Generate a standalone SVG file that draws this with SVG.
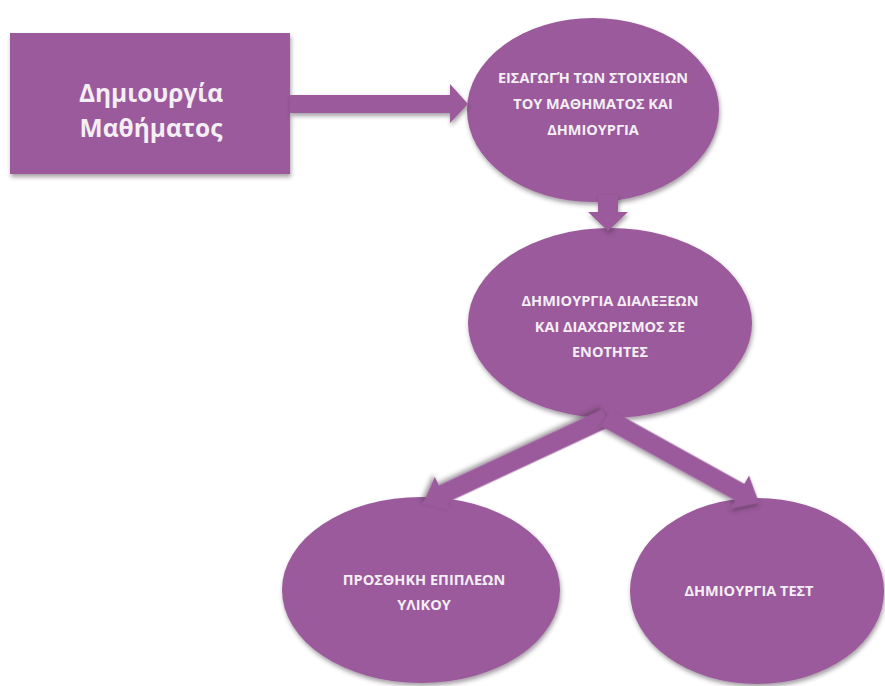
<svg xmlns="http://www.w3.org/2000/svg" width="885" height="686" viewBox="0 0 885 686">
<defs>
<filter id="sh" x="-20%" y="-20%" width="140%" height="150%">
<feDropShadow dx="1" dy="3" stdDeviation="2" flood-color="#3a2a3a" flood-opacity="0.45"/>
</filter>
</defs>
<style>
.shape{fill:#9b5a9b;filter:url(#sh)}
.t{font-family:"Open Sans","Noto Sans","DejaVu Sans",sans-serif;font-weight:bold;fill:#f4eef5;text-anchor:middle}
.big{font-size:24.5px}
.sm{font-size:14.5px}
</style>
<rect width="885" height="686" fill="#ffffff"/>
<g id="n1">
<rect class="shape" x="10" y="33" width="280" height="141"/>
<text class="t big" x="151" y="102">Δημιουργία</text>
<text class="t big" x="151" y="137">Μαθήματος</text>
</g>
<g id="n2">
<ellipse class="shape" cx="593" cy="110" rx="126" ry="92"/>
<text class="t sm" x="593" y="83">ΕΙΣΑΓΩΓΉ ΤΩΝ ΣΤΟΙΧΕΙΩΝ</text>
<text class="t sm" x="593" y="109">ΤΟΥ ΜΑΘΗΜΑΤΟΣ ΚΑΙ</text>
<text class="t sm" x="593" y="135">ΔΗΜΙΟΥΡΓΙΑ</text>
</g>
<g id="n3">
<ellipse class="shape" cx="610" cy="323" rx="142" ry="95"/>
<text class="t sm" x="610" y="306">ΔΗΜΙΟΥΡΓΙΑ ΔΙΑΛΕΞΕΩΝ</text>
<text class="t sm" x="610" y="332">ΚΑΙ ΔΙΑΧΩΡΙΣΜΟΣ ΣΕ</text>
<text class="t sm" x="610" y="357">ΕΝΟΤΗΤΕΣ</text>
</g>
<g id="n4">
<ellipse class="shape" cx="421" cy="590" rx="139" ry="93"/>
<text class="t sm" x="424" y="585">ΠΡΟΣΘΗΚΗ ΕΠΙΠΛΕΩΝ</text>
<text class="t sm" x="424" y="610">ΥΛΙΚΟΥ</text>
</g>
<g id="n5">
<ellipse class="shape" cx="757" cy="591" rx="127" ry="93"/>
<text class="t sm" x="749" y="596">ΔΗΜΙΟΥΡΓΙΑ ΤΕΣΤ</text>
</g>
<g id="connectors">
<path class="shape" d="M290,95 H450 V84 L468,104 L450,123 V113 H290 Z"/>
<path class="shape" d="M598,195 H618 V212 H628 L608,231 L588,212 H598 Z"/>
<g transform="translate(606,418) rotate(155)">
<path class="shape" d="M0,-9.5 H180 V-19 L202,0 L180,19 V9.5 H0 Z"/>
</g>
<g transform="translate(606,418) rotate(29)">
<path class="shape" d="M0,-9.5 H153 V-19 L175,0 L153,19 V9.5 H0 Z"/>
</g>
</g>
</svg>
